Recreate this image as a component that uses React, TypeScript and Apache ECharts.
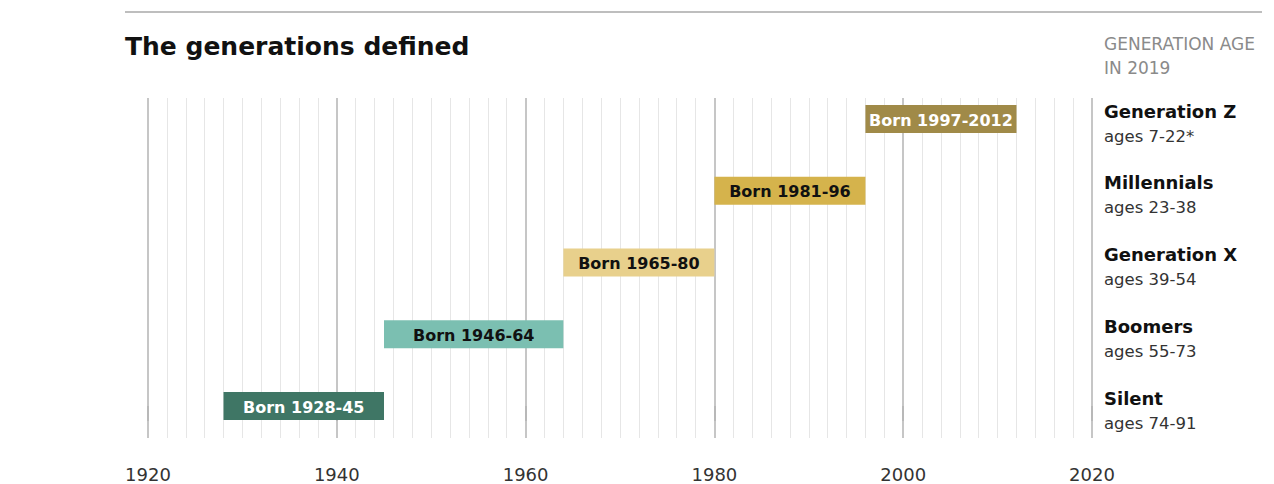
import React, { useEffect, useRef } from "react";
import * as echarts from "echarts";

const categories = ["Silent", "Boomers", "Generation X", "Millennials", "Generation Z"];
const ageRanges = ["ages 74-91", "ages 55-73", "ages 39-54", "ages 23-38", "ages 7-22*"];
const barLabels = ["Born 1928-45", "Born 1946-64", "Born 1965-80", "Born 1981-96", "Born 1997-2012"];
const barStart = [1928, 1945, 1964, 1980, 1996];
const barEnd = [1945, 1964, 1980, 1996, 2012];
const barColors = ["#3f7665", "#7bbfb1", "#e8d08c", "#d5b34c", "#a08a48"];
const labelColors = ["#ffffff", "#111111", "#111111", "#111111", "#ffffff"];
const xMin = 1920;
const xMax = 2020;
const xInterval = 20;

const FONT = "'DejaVu Sans', 'Liberation Sans', Arial, sans-serif";

export default function App() {
  const ref = useRef<HTMLDivElement>(null);

  useEffect(() => {
    if (!ref.current) return;
    const chart = echarts.init(ref.current, undefined, { renderer: "svg" });
    const data = categories.map((c, i) => [barStart[i], barEnd[i], i]);

    chart.setOption({
      animation: false,
      backgroundColor: "#ffffff",
      grid: { left: 148, right: 182, top: 98, bottom: 46 },
      xAxis: {
        type: "value",
        min: xMin,
        max: xMax,
        interval: xInterval,
        axisLine: { show: false },
        axisTick: { show: true, length: 15, lineStyle: { color: "#b3b3b3", width: 1.5 } },
        axisLabel: {
          margin: 27,
          fontSize: 18,
          color: "#333333",
          fontFamily: FONT,
          formatter: (v: number) => String(v),
        },
        splitLine: { show: true, lineStyle: { color: "#b3b3b3", width: 1.5 } },
        minorTick: { show: false, splitNumber: 10 },
        minorSplitLine: { show: true, lineStyle: { color: "#e6e6e6", width: 1 } },
      },
      yAxis: {
        type: "value",
        min: -0.446,
        max: 4.293,
        show: false,
        splitLine: { show: false },
      },
      series: [
        {
          type: "custom",
          clip: false,
          encode: { x: [0, 1], y: 2 },
          data,
          renderItem: (params: any, api: any) => {
            const i = api.value(2);
            const p0 = api.coord([api.value(0), i]);
            const p1 = api.coord([api.value(1), i]);
            const pr = api.coord([xMax, i]);
            const h = 28;
            return {
              type: "group",
              children: [
                {
                  type: "rect",
                  shape: { x: p0[0], y: p0[1] - h / 2, width: p1[0] - p0[0], height: h },
                  style: { fill: barColors[i] },
                },
                {
                  type: "text",
                  style: {
                    text: barLabels[i],
                    x: (p0[0] + p1[0]) / 2,
                    y: p0[1] + 1,
                    align: "center",
                    verticalAlign: "middle",
                    fill: labelColors[i],
                    font: `bold 16px ${FONT}`,
                  },
                },
                {
                  type: "text",
                  style: {
                    text: categories[i],
                    x: pr[0] + 12,
                    y: p0[1] - 8,
                    align: "left",
                    verticalAlign: "middle",
                    fill: "#111111",
                    font: `bold 18px ${FONT}`,
                  },
                },
                {
                  type: "text",
                  style: {
                    text: ageRanges[i],
                    x: pr[0] + 12,
                    y: p0[1] + 17,
                    align: "left",
                    verticalAlign: "middle",
                    fill: "#333333",
                    font: `16.5px ${FONT}`,
                  },
                },
              ],
            };
          },
        },
      ],
      graphic: [
        {
          type: "line",
          shape: { x1: 125, y1: 12, x2: 1262, y2: 12 },
          style: { stroke: "#a8a8a8", lineWidth: 1.5 },
        },
        {
          type: "text",
          x: 125,
          y: 46,
          style: {
            text: "The generations defined",
            font: `bold 25px ${FONT}`,
            fill: "#111111",
            verticalAlign: "middle",
            align: "left",
          },
        },
        {
          type: "text",
          x: 1104,
          y: 44,
          style: {
            text: "GENERATION AGE",
            font: `17px ${FONT}`,
            fill: "#8a8a8a",
            verticalAlign: "middle",
            align: "left",
          },
        },
        {
          type: "text",
          x: 1104,
          y: 68,
          style: {
            text: "IN 2019",
            font: `17px ${FONT}`,
            fill: "#8a8a8a",
            verticalAlign: "middle",
            align: "left",
          },
        },
      ],
    });

    return () => chart.dispose();
  }, []);

  return (
    <div
      ref={ref}
      style={{ position: "fixed", left: 0, top: 0, width: 1274, height: 484 }}
    />
  );
}
